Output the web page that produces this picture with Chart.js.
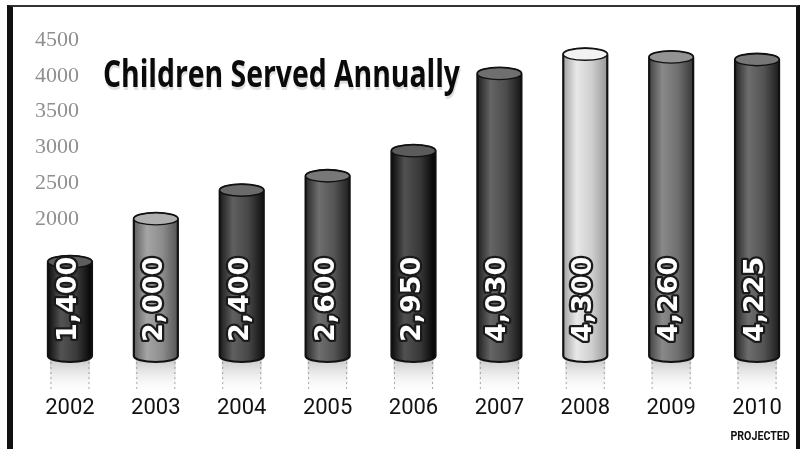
<!doctype html>
<html lang="en">
<head>
<meta charset="utf-8">
<title>Children Served Annually</title>
<script src="https://cdn.jsdelivr.net/npm/chart.js"></script>
<style>
  html, body { margin: 0; padding: 0; background: #ffffff; overflow: hidden; }
  .frame {
    position: absolute; left: 7px; top: 5px; width: 783px; height: 470px;
    border-left: 6px solid #111; border-top: 2px solid #333; border-right: 4px solid #111;
    pointer-events: none;
  }
  #chart { position: absolute; left: 0; top: 0; }
</style>
</head>
<body>
<canvas id="chart" width="803" height="449"></canvas>
<div class="frame"></div>
<script>
// data
const years = ['2002', '2003', '2004', '2005', '2006', '2007', '2008', '2009', '2010'];
const served = [1400, 2000, 2400, 2600, 2950, 4030, 4300, 4260, 4225];
const servedLabels = ['1,400', '2,000', '2,400', '2,600', '2,950', '4,030', '4,300', '4,260', '4,225'];
const barColors = ['#3a3a3a', '#8c8c8c', '#474747', '#555555', '#383838', '#4c4c4c', '#cfcfcf', '#707070', '#545454'];
const yTicks = [2000, 2500, 3000, 3500, 4000, 4500];
const titleText = 'Children Served Annually';
const footNote = 'PROJECTED';

// lighten (amt > 0) or darken (amt < 0) a hex colour
function shade(hex, amt) {
  const n = parseInt(hex.slice(1), 16);
  const f = c => Math.max(0, Math.min(255, c + amt));
  const r = f(n >> 16), g = f((n >> 8) & 255), b = f(n & 255);
  return `rgb(${r},${g},${b})`;
}

function drawCylinder(ctx, x, top, base, w, color) {
  const rx = w / 2, ry = 6;
  const l = x - rx, r = x + rx;

  // faint reflection under the bar, with dotted edges
  const rg = ctx.createLinearGradient(0, base, 0, base + 34);
  rg.addColorStop(0, 'rgba(120,120,120,0.35)');
  rg.addColorStop(1, 'rgba(255,255,255,0)');
  ctx.fillStyle = rg;
  ctx.fillRect(l + 2, base - 2, w - 4, 36);
  ctx.save();
  ctx.setLineDash([2, 3]);
  ctx.strokeStyle = 'rgba(90,90,90,0.5)';
  ctx.lineWidth = 1;
  ctx.beginPath();
  ctx.moveTo(l + 3, base); ctx.lineTo(l + 3, base + 28);
  ctx.moveTo(r - 3, base); ctx.lineTo(r - 3, base + 28);
  ctx.stroke();
  ctx.restore();

  const g = ctx.createLinearGradient(l, 0, r, 0);
  g.addColorStop(0, shade(color, -45));
  g.addColorStop(0.3, shade(color, 25));
  g.addColorStop(0.65, color);
  g.addColorStop(1, shade(color, -55));

  ctx.beginPath();
  ctx.moveTo(l, top);
  ctx.lineTo(l, base - ry);
  ctx.ellipse(x, base - ry, rx, ry, 0, Math.PI, 0, true);
  ctx.lineTo(r, top);
  ctx.ellipse(x, top, rx, ry, 0, 0, Math.PI, true);
  ctx.closePath();
  ctx.fillStyle = g;
  ctx.fill();
  ctx.lineWidth = 2.2;
  ctx.strokeStyle = '#111';
  ctx.stroke();

  // top cap
  ctx.beginPath();
  ctx.ellipse(x, top, rx, ry, 0, 0, Math.PI * 2);
  ctx.fillStyle = shade(color, 35);
  ctx.fill();
  ctx.lineWidth = 1.4;
  ctx.stroke();
}

const cylinders = {
  id: 'cylinders',
  beforeDatasetDraw(chart, args) {
    const ctx = chart.ctx;
    const meta = chart.getDatasetMeta(args.index);
    ctx.save();
    meta.data.forEach((bar, i) => {
      drawCylinder(ctx, bar.x, bar.y, bar.base, bar.width, barColors[i]);
    });
    // value labels, written up the bar
    ctx.font = 'bold 27px "DejaVu Sans", sans-serif';
    ctx.textAlign = 'left';
    ctx.textBaseline = 'middle';
    ctx.lineJoin = 'round';
    meta.data.forEach((bar, i) => {
      ctx.save();
      ctx.translate(bar.x - 1, bar.base - 20);
      ctx.rotate(-Math.PI / 2);
      ctx.lineWidth = 4.5;
      ctx.strokeStyle = '#1a1a1a';
      ctx.strokeText(servedLabels[i], 0, 0);
      ctx.fillStyle = '#ffffff';
      ctx.fillText(servedLabels[i], 0, 0);
      ctx.restore();
    });
    ctx.restore();
    return false;
  },
  afterDraw(chart) {
    const ctx = chart.ctx;
    ctx.save();
    // title, squeezed like a condensed face
    ctx.font = 'bold 37px "Open Sans", sans-serif';
    ctx.textBaseline = 'alphabetic';
    ctx.textAlign = 'left';
    const tw = ctx.measureText(titleText).width;
    ctx.translate(103, 87);
    ctx.scale(357 / tw, 1);
    ctx.fillStyle = 'rgba(0,0,0,0.12)';
    ctx.fillText(titleText, 1, 3);
    ctx.fillStyle = '#0a0a0a';
    ctx.fillText(titleText, 0, 0);
    ctx.restore();

    // "PROJECTED" under the last year
    const xs = chart.scales.x;
    ctx.save();
    ctx.font = 'bold 13px "Roboto", sans-serif';
    ctx.textAlign = 'center';
    ctx.textBaseline = 'middle';
    ctx.fillStyle = '#111';
    const fx = xs.getPixelForValue(years.length - 1) + 3;
    ctx.translate(fx, 437);
    ctx.scale(0.82, 1);
    ctx.fillText(footNote, 0, 0);
    ctx.restore();
  }
};

new Chart(document.getElementById('chart'), {
  type: 'bar',
  data: {
    labels: years,
    datasets: [{
      label: 'Children served',
      data: served,
      backgroundColor: barColors,
      barThickness: 44
    }]
  },
  options: {
    responsive: false,
    animation: false,
    devicePixelRatio: 1,
    layout: { padding: { left: 27, right: 3, top: 40, bottom: 25 } },
    plugins: { legend: { display: false }, tooltip: { enabled: false }, title: { display: false } },
    scales: {
      x: {
        grid: { display: false, drawTicks: false },
        border: { display: false },
        afterFit: axis => { axis.height = 62; axis.paddingLeft = 0; axis.paddingRight = 0; },
        ticks: {
          color: '#111',
          padding: 33,
          maxRotation: 0,
          font: { family: '"Liberation Sans Narrow", "Roboto", sans-serif', size: 22 }
        }
      },
      y: {
        min: 0,
        max: 4500,
        grid: { display: false, drawTicks: false },
        border: { display: false },
        afterBuildTicks: axis => { axis.ticks = yTicks.map(v => ({ value: v })); },
        afterFit: axis => { axis.width = 0; axis.paddingTop = 0; axis.paddingBottom = 0; },
        ticks: {
          mirror: true,
          padding: 8,
          color: '#8f8f8f',
          font: { family: '"Liberation Serif", serif', size: 22 },
          callback: v => String(v)
        }
      }
    }
  },
  plugins: [cylinders]
});
</script>
</body>
</html>
